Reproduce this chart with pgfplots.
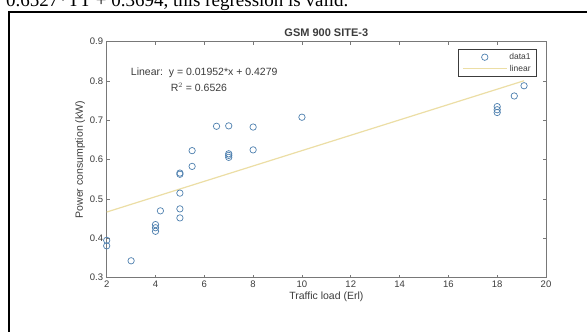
\documentclass[border=0pt]{standalone}
\usepackage{pgfplots}
\pgfplotsset{compat=1.18}
\usepackage{fontspec}
\setmainfont{Liberation Sans}
\newfontfamily\capfont{Liberation Serif}
\definecolor{mblue}{RGB}{78,128,175}
\definecolor{myel}{RGB}{236,222,165}
\definecolor{axgray}{RGB}{120,120,120}
\definecolor{txtgray}{RGB}{60,60,60}
\pgfplotsset{
  marklegend/.style={legend image code/.code={\draw[mark repeat=2,mark phase=2,##1] plot coordinates {(0pt,0pt) (16pt,0pt) (32pt,0pt)};}},
  linelegend/.style={legend image code/.code={\draw[##1] (-6pt,0pt) -- (38pt,0pt);}},
}
\begin{document}
\begin{tikzpicture}[x=1pt,y=1pt]
\clip (0,0) rectangle (587,332);
\fill[white] (0,0) rectangle (587,332);
\node[anchor=base west,inner sep=0pt,font=\capfont\fontsize{19}{20}\selectfont] at (6,325) {0.6527*TT + 0.3694, this regression is valid.};
\draw[black,line width=1.3pt] (9,-10) -- (9,320) -- (600,320);
\begin{axis}[
  at={(106.7pt,54.3pt)}, anchor=south west,
  scale only axis, width=439.3pt, height=236pt,
  xmin=2, xmax=20, ymin=0.3, ymax=0.9,
  xtick={2,4,6,8,10,12,14,16,18,20},
  ytick={0.3,0.4,0.5,0.6,0.7,0.8,0.9},
  yticklabel style={/pgf/number format/fixed,/pgf/number format/precision=1,/pgf/number format/fixed zerofill},
  /pgf/number format/assume math mode=true,
  ticklabel style={font=\fontsize{9.5}{10}\selectfont, text=txtgray},
  tick align=inside, xtick pos=both, ytick pos=both,
  major tick length=3pt,
  tick style={axgray, line width=0.6pt},
  axis line style={axgray, line width=0.7pt},
  title={\bfseries GSM 900 SITE-3},
  title style={font=\fontsize{11}{12}\selectfont, text=txtgray, yshift=-4pt},
  xlabel={Traffic load (Erl)},
  ylabel={Power consumption (kW)},
  label style={font=\fontsize{10.5}{11}\selectfont, text=txtgray},
  xlabel style={yshift=3pt},
  ylabel style={yshift=-2pt},
  legend style={at={(0.9795,0.969)}, anchor=north east, draw=txtgray, line width=0.7pt,
    font=\fontsize{8.5}{10}\selectfont, text=txtgray, inner xsep=4pt, inner ysep=2pt, row sep=0pt},
  legend cell align=right,
]
\addplot[only marks, mark=o, mark size=3.2pt, mblue, line width=0.7pt, marklegend]
coordinates {
(2,0.395) (2,0.381)
(3,0.343)
(4,0.435) (4,0.427) (4,0.418)
(4.2,0.470)
(5,0.566) (5,0.563) (5,0.515) (5,0.475) (5,0.452)
(5.5,0.623) (5.5,0.583)
(6.5,0.685)
(7,0.686) (7,0.615) (7,0.611) (7,0.606)
(8,0.683) (8,0.625)
(10,0.708)
(18,0.735) (18,0.727) (18,0.720)
(18.7,0.762)
(19.1,0.788)
};
\addlegendentry{data1}
\addplot[myel, line width=1.2pt, linelegend]
coordinates {(2,0.46694) (19.1,0.800732)};
\addlegendentry{linear}
\node[anchor=west, font=\fontsize{10.5}{11}\selectfont, text=txtgray] at (axis cs:2.85,0.8216) {Linear:\ \ y = 0.01952*x + 0.4279};
\node[anchor=center, font=\fontsize{10.5}{11}\selectfont, text=txtgray] at (axis cs:5.78,0.783) {R$^2$ = 0.6526};
\end{axis}
\end{tikzpicture}
\end{document}
